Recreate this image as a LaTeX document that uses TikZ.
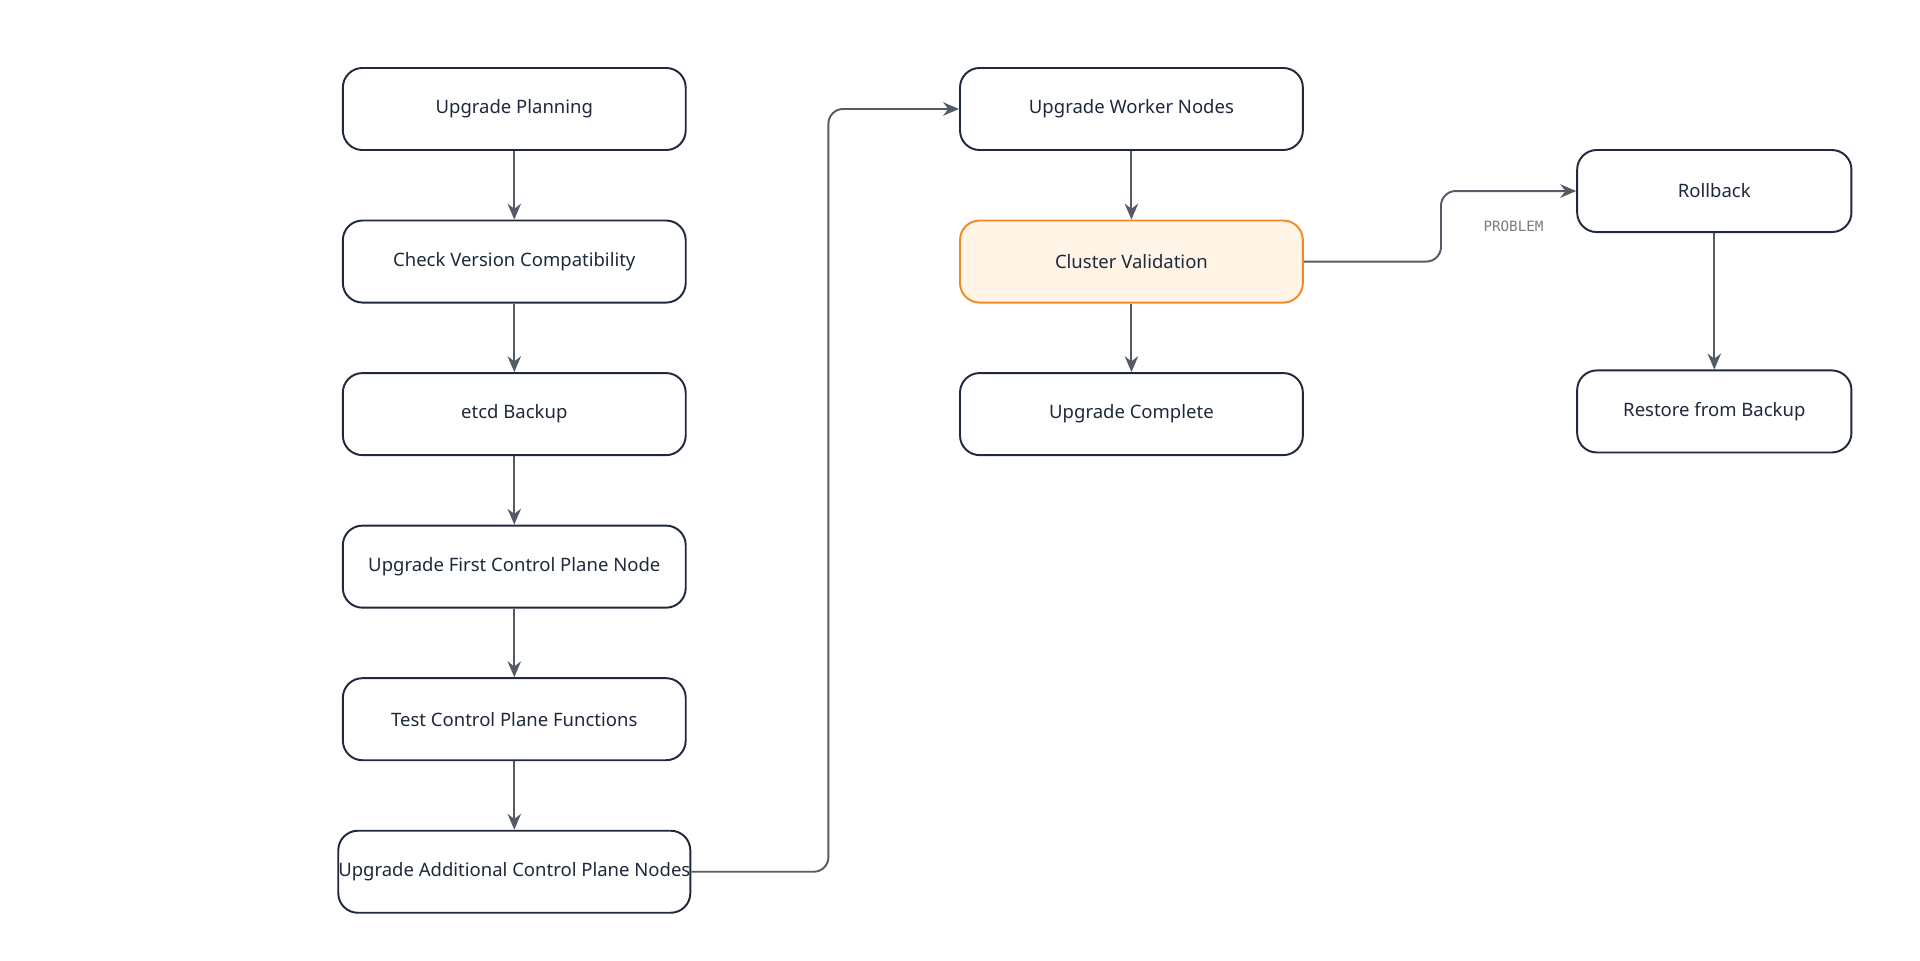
\documentclass[tikz,border=0pt]{standalone}
\usepackage{fontspec}
\setmainfont{Noto Sans}
\setmonofont{DejaVu Sans Mono}
\usetikzlibrary{positioning,arrows.meta}
\definecolor{edge}{HTML}{1E293B}
\definecolor{wire}{HTML}{555B66}
\definecolor{warnfill}{HTML}{FFF4E5}
\definecolor{warnline}{HTML}{F08A24}
\tikzset{
  stepbox/.style={draw=edge,line width=0.45pt,rounded corners=1.6mm,fill=white,
    minimum width=2.8cm,minimum height=0.67cm,inner sep=0pt,text=edge,
    font=\fontsize{4.3}{5}\selectfont\bfseries},
  warnbox/.style={stepbox,fill=warnfill,draw=warnline},
  flow/.style={draw=wire,line width=0.45pt,-{Stealth[length=1.3mm,width=1.1mm]},rounded corners=1.2mm}
}
\begin{document}
\begin{tikzpicture}
\useasboundingbox (0,0) rectangle (15.68,-7.84);
\node[stepbox] (plan) at (4.20,-0.89) {Upgrade Planning};
\node[stepbox,below=0.56cm of plan] (check) {Check Version Compatibility};
\node[stepbox,below=0.56cm of check] (etcd) {etcd Backup};
\node[stepbox,below=0.56cm of etcd] (first) {Upgrade First Control Plane Node};
\node[stepbox,below=0.56cm of first] (test) {Test Control Plane Functions};
\node[stepbox,below=0.56cm of test] (more) {Upgrade Additional Control Plane Nodes};
\node[stepbox] (worker) at (9.24,-0.89) {Upgrade Worker Nodes};
\node[warnbox,below=0.56cm of worker] (valid) {Cluster Validation};
\node[stepbox,below=0.56cm of valid] (done) {Upgrade Complete};
\node[stepbox,minimum width=2.24cm] (roll) at (14.00,-1.56) {Rollback};
\node[stepbox,minimum width=2.24cm] (restore) at (14.00,-3.36) {Restore from Backup};
% left column
\draw[flow] (plan) -- (check);
\draw[flow] (check) -- (etcd);
\draw[flow] (etcd) -- (first);
\draw[flow] (first) -- (test);
\draw[flow] (test) -- (more);
\draw[flow] (more.east) -- ++(1.12,0) |- (worker.west);
% right side
\draw[flow] (worker) -- (valid);
\draw[flow] (valid) -- (done);
\draw[flow] (valid.east) -- ++(1.12,0) |- (roll.west);
\node[text=wire!80,font=\ttfamily\fontsize{3.3}{4}\selectfont] (prob) at (12.36,-1.85) {PROBLEM};
\draw[flow] (roll) -- (restore);
\end{tikzpicture}
\end{document}
